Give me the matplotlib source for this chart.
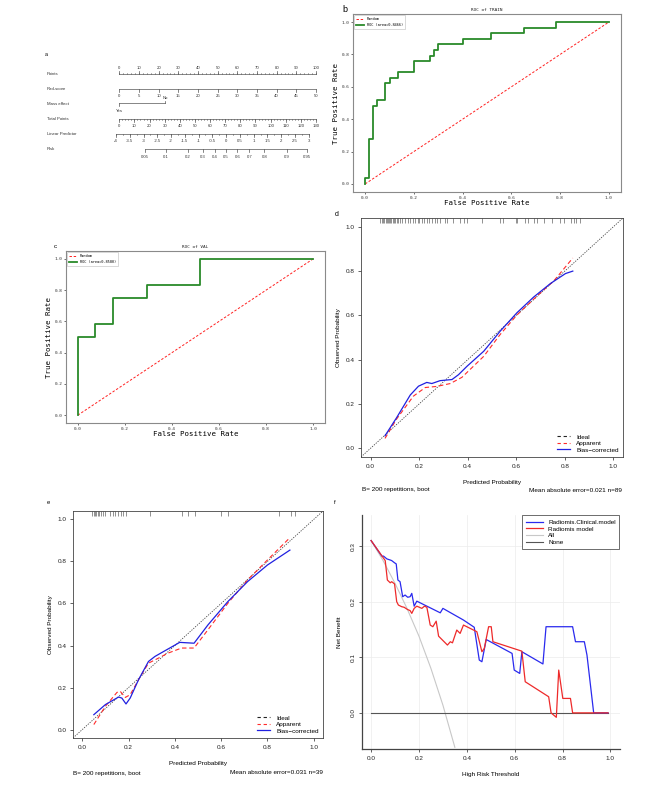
import numpy as np
import matplotlib
matplotlib.use('Agg')
import matplotlib.pyplot as plt
from matplotlib.lines import Line2D
from matplotlib.transforms import blended_transform_factory

plt.rcParams['font.family'] = ['Liberation Sans', 'DejaVu Sans']
MONO = ['DejaVu Sans Mono']

# ---------------- data ----------------
# nomogram (a)
points_ticks = list(range(0, 101, 10))
rad_ticks = list(range(0, 51, 5))
rad_max_points = 100.0          # points for rad-score = 50
mass_levels = ['Yes', 'No']
mass_points = [0.0, 23.2]
total_ticks = list(range(0, 131, 10))
total_max = 130.0
lp_ticks = [-4, -3.5, -3, -2.5, -2, -1.5, -1, -0.5, 0, 0.5, 1, 1.5, 2, 2.5, 3]
lp_tp_at0 = 70.6                 # total points at linear predictor 0
lp_tp_slope = 18.2               # total points per LP unit
risk_ticks = [0.05, 0.1, 0.2, 0.3, 0.4, 0.5, 0.6, 0.7, 0.8, 0.9, 0.95]

# ROC train (b)
train_fpr = [0.0, 0.017, 0.033, 0.05, 0.083, 0.1, 0.133, 0.2, 0.267, 0.283, 0.3, 0.4, 0.517, 0.65, 0.783, 1.0]
train_tpr = [0.034, 0.276, 0.483, 0.517, 0.621, 0.655, 0.69, 0.759, 0.793, 0.828, 0.862, 0.897, 0.931, 0.966, 1.0]
train_auc = 0.8466
# ROC val (c)
val_fpr = [0.0, 0.074, 0.148, 0.296, 0.519, 1.0]
val_tpr = [0.5, 0.583, 0.75, 0.833, 1.0]
val_auc = 0.8580

# calibration train (d)
d_bc_x = [0.059, 0.107, 0.163, 0.197, 0.231, 0.252, 0.286, 0.335, 0.362, 0.397, 0.466, 0.534, 0.603, 0.672, 0.741, 0.803, 0.833]
d_bc_y = [0.056, 0.138, 0.240, 0.280, 0.297, 0.292, 0.305, 0.310, 0.332, 0.370, 0.438, 0.529, 0.612, 0.683, 0.744, 0.789, 0.800]
d_app_x = [0.059, 0.107, 0.176, 0.225, 0.273, 0.328, 0.376, 0.466, 0.534, 0.603, 0.686, 0.755, 0.833]
d_app_y = [0.044, 0.132, 0.235, 0.274, 0.279, 0.292, 0.320, 0.415, 0.514, 0.602, 0.688, 0.756, 0.859]
d_rug = [0.039, 0.045, 0.052, 0.056, 0.061, 0.066, 0.070, 0.074, 0.080, 0.085, 0.091, 0.096, 0.102, 0.107,
         0.114, 0.121, 0.128, 0.142, 0.152, 0.163, 0.176, 0.183, 0.193, 0.201, 0.211, 0.218, 0.231, 0.242,
         0.252, 0.266, 0.275, 0.287, 0.307, 0.314, 0.339, 0.369, 0.383, 0.399, 0.459, 0.532, 0.545, 0.599,
         0.603, 0.638, 0.647, 0.675, 0.686, 0.713, 0.748, 0.782, 0.796, 0.824, 0.840, 0.848, 0.862]
d_mae, d_n = 0.021, 89

# calibration val (e)
e_bc_x = [0.05, 0.10, 0.157, 0.171, 0.189, 0.207, 0.243, 0.286, 0.314, 0.357, 0.421, 0.483, 0.543, 0.629, 0.714, 0.80, 0.897]
e_bc_y = [0.071, 0.119, 0.155, 0.150, 0.122, 0.150, 0.237, 0.324, 0.348, 0.375, 0.415, 0.411, 0.498, 0.609, 0.704, 0.783, 0.854]
e_app_x = [0.05, 0.10, 0.15, 0.164, 0.186, 0.207, 0.243, 0.286, 0.329, 0.371, 0.429, 0.483, 0.543, 0.629, 0.714, 0.80, 0.897]
e_app_y = [0.024, 0.111, 0.177, 0.182, 0.153, 0.166, 0.237, 0.316, 0.340, 0.364, 0.388, 0.388, 0.475, 0.601, 0.712, 0.807, 0.913]
e_rug = [0.043, 0.049, 0.054, 0.060, 0.067, 0.074, 0.081, 0.089, 0.097, 0.121, 0.133, 0.143, 0.154, 0.167,
         0.176, 0.187, 0.293, 0.430, 0.457, 0.489, 0.600, 0.629, 0.850, 0.900, 0.920]
e_mae, e_n = 0.031, 39

# decision curve (f)
f_thr_cm = [0, 0.045, 0.052, 0.066, 0.08, 0.086, 0.098, 0.105, 0.112, 0.121, 0.132, 0.142, 0.153, 0.163, 0.170,
            0.180, 0.191, 0.289, 0.300, 0.386, 0.431, 0.452, 0.463, 0.481, 0.589, 0.598, 0.621, 0.630, 0.718,
            0.731, 0.842, 0.854, 0.891, 0.902, 0.93, 0.99]
f_nb_cm = [0.31, 0.282, 0.282, 0.277, 0.275, 0.274, 0.270, 0.268, 0.239, 0.236, 0.209, 0.212, 0.208, 0.209, 0.215,
           0.192, 0.201, 0.180, 0.188, 0.167, 0.154, 0.095, 0.092, 0.132, 0.107, 0.077, 0.071, 0.110, 0.088,
           0.155, 0.155, 0.128, 0.128, 0.104, 0.0, 0.0]
f_thr_rm = [0, 0.059, 0.068, 0.080, 0.086, 0.098, 0.107, 0.114, 0.128, 0.138, 0.152, 0.163, 0.170, 0.180, 0.191,
            0.212, 0.223, 0.233, 0.247, 0.258, 0.272, 0.282, 0.319, 0.331, 0.340, 0.358, 0.372, 0.386, 0.442,
            0.463, 0.473, 0.491, 0.502, 0.509, 0.630, 0.644, 0.742, 0.752, 0.774, 0.784, 0.801, 0.833, 0.842, 0.99]
f_nb_rm = [0.31, 0.274, 0.239, 0.234, 0.236, 0.232, 0.200, 0.194, 0.191, 0.190, 0.186, 0.184, 0.179, 0.188, 0.192,
           0.188, 0.192, 0.190, 0.158, 0.155, 0.165, 0.138, 0.122, 0.128, 0.126, 0.149, 0.143, 0.158, 0.146,
           0.110, 0.116, 0.155, 0.155, 0.128, 0.111, 0.056, 0.029, 0.0, -0.008, 0.077, 0.026, 0.026, 0.0, 0.0]
f_thr_all = [0, 0.05, 0.1, 0.15, 0.2, 0.25, 0.3, 0.35]
f_nb_all = [0.31, 0.274, 0.233, 0.188, 0.138, 0.080, 0.014, -0.062]
f_thr_none = [0, 0.99]
f_nb_none = [0.0, 0.0]

# ---------------- figure ----------------
W, H = 669, 785
fig = plt.figure(figsize=(W / 100, H / 100), dpi=100)


def ax_px(x0, y0, x1, y1):
    return fig.add_axes([x0 / W, 1 - y1 / H, (x1 - x0) / W, (y1 - y0) / H])


def ftext(x, y, s, **kw):
    fig.text(x / W, 1 - y / H, s, **kw)


# ---------------- (a) nomogram ----------------
PX0, PXU = 119.3, 1.967     # pixel of 0 points, pixels per point


def px2pts(px):
    return (px - PX0) / PXU


axa = ax_px(40, 45, 335, 172)
axa.set_xlim(px2pts(40), px2pts(335))
axa.set_ylim(172, 45)
axa.axis('off')
NC = '#555555'
TC = '#333333'
NFS = 3.1
lab_x = px2pts(47)


def scale_row(y, xs, labels, up, label_y, minor=None, big=2.6, small=1.4):
    axa.plot([min(xs), max(xs)], [y, y], color=NC, lw=0.5)
    sgn = -1 if up else 1
    for xv, lb in zip(xs, labels):
        axa.plot([xv, xv], [y, y + sgn * big], color=NC, lw=0.5)
        axa.text(xv, label_y, lb, ha='center', va='center', fontsize=NFS, color=TC)
    if minor is not None:
        for xv in minor:
            axa.plot([xv, xv], [y, y + sgn * small], color=NC, lw=0.4)


rows = [('Points', 74), ('Rad-score', 89.5), ('Mass effect', 104), ('Total Points', 119),
        ('Linear Predictor', 134), ('Risk', 148.5)]
for name, yy in rows:
    axa.text(lab_x, yy, name, ha='left', va='center', fontsize=NFS, color=TC)

scale_row(74, points_ticks, [str(v) for v in points_ticks], True, 67.8,
          minor=np.arange(0, 101, 2))
scale_row(89, [r * rad_max_points / 50 for r in rad_ticks], [str(v) for v in rad_ticks], False, 96.3)
# mass effect
axa.plot([mass_points[0], mass_points[1]], [103, 103], color=NC, lw=0.5)
axa.plot([mass_points[0]] * 2, [103, 105.5], color=NC, lw=0.5)
axa.plot([mass_points[1]] * 2, [103, 100.5], color=NC, lw=0.5)
axa.text(mass_points[1], 98.3, mass_levels[1], ha='center', va='center', fontsize=NFS, color=TC)
axa.text(mass_points[0], 111, mass_levels[0], ha='center', va='center', fontsize=NFS, color=TC)
# total points
tp2pts = 100.0 / total_max
scale_row(119, [t * tp2pts for t in total_ticks], [str(v) for v in total_ticks], False, 126,
          minor=np.arange(0, total_max + 0.1, 2) * tp2pts)
# linear predictor
lp_pts = [(lp_tp_at0 + lp_tp_slope * v) * tp2pts for v in lp_ticks]
lp_minor = [(lp_tp_at0 + lp_tp_slope * v) * tp2pts for v in np.arange(-4, 3.01, 0.25)]
scale_row(134, lp_pts, ['%g' % v for v in lp_ticks], False, 140.7, minor=lp_minor)
# risk
risk_pts = [(lp_tp_at0 + lp_tp_slope * np.log(r / (1 - r))) * tp2pts for r in risk_ticks]
scale_row(149, risk_pts, ['%g' % v for v in risk_ticks], False, 156.7)


# ---------------- (b), (c) ROC ----------------
def roc_path(fpr, tpr):
    xs, ys = [0.0], [0.0]
    for i, lv in enumerate(tpr):
        xs += [fpr[i], fpr[i + 1]]
        ys += [lv, lv]
    return xs, ys


def roc_panel(ax, fpr, tpr, auc, title):
    ax.plot([0, 1], [0, 1], color='#ff2020', ls=(0, (2.5, 1.8)), lw=0.7, label='Random')
    xs, ys = roc_path(fpr, tpr)
    ax.plot(xs, ys, color='#2a8a2a', lw=1.3, label='ROC (area=%.4f)' % auc)
    ax.margins(0.05)
    ax.set_xticks([0, 0.2, 0.4, 0.6, 0.8, 1.0])
    ax.set_yticks([0, 0.2, 0.4, 0.6, 0.8, 1.0])
    ax.set_xticklabels(['%.1f' % v for v in ax.get_xticks()], family=MONO)
    ax.set_yticklabels(['%.1f' % v for v in ax.get_yticks()], family=MONO)
    ax.tick_params(labelsize=3.2, length=1.5, width=0.5, pad=1.2, colors='#333333')
    for s in ax.spines.values():
        s.set_color('#8a8a8a')
        s.set_linewidth(0.8)
    ax.set_title(title, fontsize=3.2, family=MONO, pad=2.5, color='#222222')
    ax.set_xlabel('False Positive Rate', fontsize=5.3, family=MONO, labelpad=0.5)
    ax.set_ylabel('True Positive Rate', fontsize=5.3, family=MONO, labelpad=1.5)
    leg = ax.legend(loc='upper left', fontsize=2.6, prop={'family': MONO, 'size': 2.6},
                    handlelength=2.2, borderpad=0.6, labelspacing=0.5, framealpha=1,
                    borderaxespad=0.3)
    leg.get_frame().set_linewidth(0.4)
    leg.get_frame().set_edgecolor('#bbbbbb')


axb = ax_px(353, 14, 621, 192)
roc_panel(axb, train_fpr, train_tpr, train_auc, 'ROC of TRAIN')
axc = ax_px(66, 251, 325, 423)
roc_panel(axc, val_fpr, val_tpr, val_auc, 'ROC of VAL')


# ---------------- (d), (e) calibration ----------------
FS = 4.6


def calib_panel(ax, app_x, app_y, bc_x, bc_y, rug):
    lim = (-0.04, 1.04)
    ax.set_xlim(lim)
    ax.set_ylim(lim)
    ax.plot(lim, lim, color='#444444', ls=(0, (1.5, 1.5)), lw=0.6)
    tr = blended_transform_factory(ax.transData, ax.transAxes)
    ax.vlines(rug, 0.978, 1.0, transform=tr, color='#555555', lw=0.45)
    ax.plot(app_x, app_y, color='#ff2a2a', ls=(0, (4, 2.5)), lw=0.8)
    ax.plot(bc_x, bc_y, color='#2020e0', lw=0.9)
    ticks = [0, 0.2, 0.4, 0.6, 0.8, 1.0]
    ax.set_xticks(ticks)
    ax.set_yticks(ticks)
    ax.set_xticklabels(['%.1f' % v for v in ticks])
    ax.set_yticklabels(['%.1f' % v for v in ticks])
    ax.tick_params(labelsize=FS, length=2.2, width=0.5, pad=2.5, colors='#222222')
    for s in ax.spines.values():
        s.set_color('#444444')
        s.set_linewidth(0.6)
    ax.set_xlabel('Predicted Probability', fontsize=FS, labelpad=8)
    ax.set_ylabel('Observed Probability', fontsize=FS, labelpad=3)
    handles = [Line2D([], [], color='#222222', ls=(0, (3, 2.5)), lw=0.8),
               Line2D([], [], color='#ff2a2a', ls=(0, (3, 2.5)), lw=0.8),
               Line2D([], [], color='#2020e0', lw=0.9)]
    ax.legend(handles, ['Ideal', 'Apparent', 'Bias\u2212corrected'], loc='lower right', frameon=False,
              fontsize=FS, handlelength=2.0, handletextpad=1.0, labelspacing=0.15,
              borderaxespad=0.3)


axd = ax_px(361, 218, 623, 457)
calib_panel(axd, d_app_x, d_app_y, d_bc_x, d_bc_y, d_rug)
ftext(362, 490, 'B= 200 repetitions, boot', fontsize=FS, ha='left', va='center')
ftext(622, 490, 'Mean absolute error=%.3f n=%d' % (d_mae, d_n), fontsize=FS, ha='right', va='center')

axe = ax_px(73, 511, 323, 738)
calib_panel(axe, e_app_x, e_app_y, e_bc_x, e_bc_y, e_rug)
ftext(73, 773, 'B= 200 repetitions, boot', fontsize=FS, ha='left', va='center')
ftext(323, 773, 'Mean absolute error=%.3f n=%d' % (e_mae, e_n), fontsize=FS, ha='right', va='center')

# ---------------- (f) decision curve ----------------
axf = ax_px(362, 515, 620, 749)
axf.set_xlim(-0.038, 1.04)
axf.set_ylim(-0.065, 0.356)
axf.set_xticks([0, 0.2, 0.4, 0.6, 0.8, 1.0])
axf.set_yticks([0.0, 0.1, 0.2, 0.3])
axf.grid(True, color='#ececec', lw=0.5)
axf.set_axisbelow(True)
axf.plot(f_thr_all, f_nb_all, color='#c8c8c8', lw=0.8, label='All')
axf.plot(f_thr_none, f_nb_none, color='#555555', lw=0.8, label='None')
axf.plot(f_thr_cm, f_nb_cm, color='#2a2aee', lw=0.9, label='Radiomis.Clinical.model')
axf.plot(f_thr_rm, f_nb_rm, color='#ee2a2a', lw=0.9, label='Radiomis model')
axf.set_xticklabels(['%.1f' % v for v in axf.get_xticks()])
axf.set_yticklabels(['%.1f' % v for v in axf.get_yticks()], rotation=90, va='center')
axf.tick_params(labelsize=FS, length=2.2, width=0.5, pad=2.5, colors='#222222')
for k in ['top', 'right']:
    axf.spines[k].set_visible(False)
for k in ['left', 'bottom']:
    axf.spines[k].set_color('#444444')
    axf.spines[k].set_linewidth(0.9)
axf.set_xlabel('High Risk Threshold', fontsize=FS, labelpad=8)
axf.set_ylabel('Net Benefit', fontsize=FS, labelpad=6)
hh, ll = axf.get_legend_handles_labels()
order = [2, 3, 0, 1]
legf = axf.legend([hh[i] for i in order], [ll[i] for i in order], loc='upper right',
                  bbox_to_anchor=(0.998, 0.998), borderaxespad=0, fontsize=FS, handlelength=2.6,
                  handletextpad=0.8, labelspacing=0.2, fancybox=False, framealpha=1, borderpad=0.6)
legf.get_frame().set_edgecolor('#333333')
legf.get_frame().set_linewidth(0.5)

# ---------------- panel letters ----------------
ftext(45, 55, 'a', fontsize=3.8, ha='left', va='center')
ftext(342, 10, 'b', fontsize=6.5, ha='left', va='center')
ftext(54, 246, 'c', fontsize=4.5, ha='left', va='center')
ftext(335, 215, 'd', fontsize=5, ha='left', va='center')
ftext(47, 502, 'e', fontsize=4.2, ha='left', va='center')
ftext(334, 502, 'f', fontsize=4.2, ha='left', va='center')

fig.savefig('out.png', dpi=100)
